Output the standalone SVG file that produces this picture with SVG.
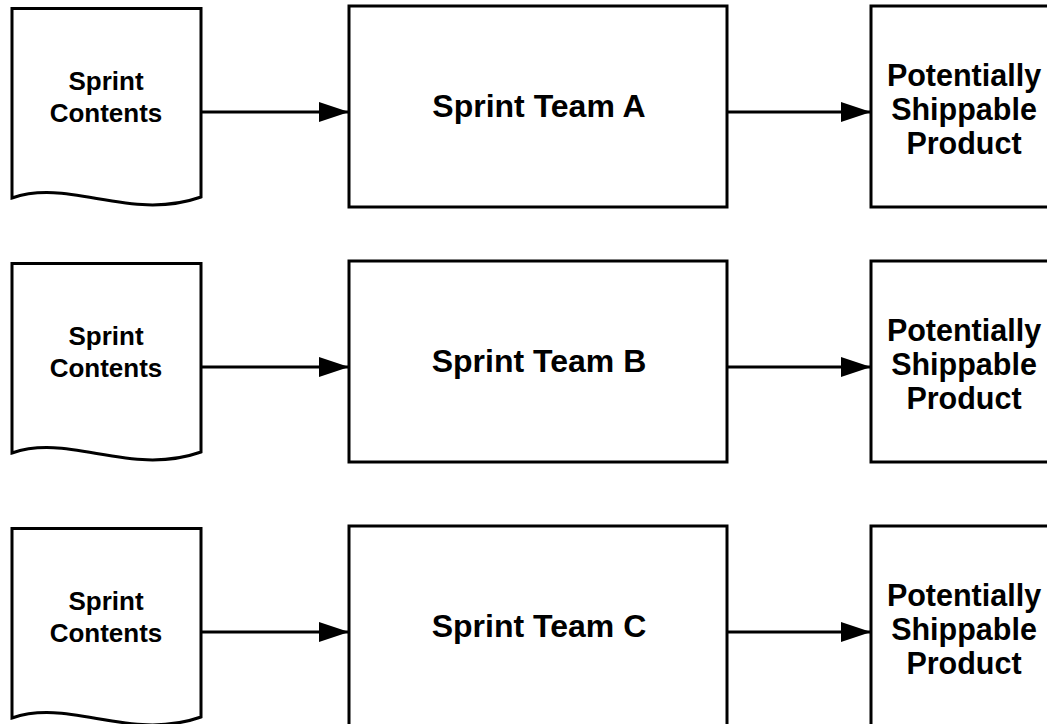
<svg xmlns="http://www.w3.org/2000/svg" width="1047" height="724" viewBox="0 0 1047 724">
  <style>
    .shape { fill: #ffffff; stroke: #000000; stroke-width: 3; stroke-linejoin: miter; }
    .edge { fill: none; stroke: #000000; stroke-width: 3; }
    text { font-family: "Liberation Sans", Arial, sans-serif; font-weight: bold; fill: #000000; text-anchor: middle; }
    .doc-label { font-size: 26px; }
    .team-label { font-size: 32px; }
    .product-label { font-size: 30.5px; }
  </style>
  <defs>
    <marker id="arrow" viewBox="0 0 30 20" refX="30" refY="10" markerWidth="30" markerHeight="20" markerUnits="userSpaceOnUse" orient="auto">
      <path d="M0,0 L30,10 L0,20 Z" fill="#000000"/>
    </marker>
    <path id="doc-shape" d="M12,8.5 H201 V197 C130,222 70,178 12,198 Z"/>
  </defs>

  <!-- Row A -->
  <g id="contents-a">
    <use href="#doc-shape" class="shape"/>
    <text class="doc-label" x="106" y="90">Sprint</text>
    <text class="doc-label" x="106" y="122">Contents</text>
  </g>
  <g id="team-a">
    <rect class="shape" x="349" y="6" width="378" height="201"/>
    <text class="team-label" x="539" y="117">Sprint Team A</text>
  </g>
  <g id="product-a">
    <rect class="shape" x="871" y="6" width="200" height="201"/>
    <text class="product-label" x="964" y="86">Potentially</text>
    <text class="product-label" x="964" y="120">Shippable</text>
    <text class="product-label" x="964" y="154">Product</text>
  </g>

  <!-- Row B -->
  <g id="contents-b" transform="translate(0,255)">
    <use href="#doc-shape" class="shape"/>
    <text class="doc-label" x="106" y="90">Sprint</text>
    <text class="doc-label" x="106" y="122">Contents</text>
  </g>
  <g id="team-b" transform="translate(0,255)">
    <rect class="shape" x="349" y="6" width="378" height="201"/>
    <text class="team-label" x="539" y="117">Sprint Team B</text>
  </g>
  <g id="product-b" transform="translate(0,255)">
    <rect class="shape" x="871" y="6" width="200" height="201"/>
    <text class="product-label" x="964" y="86">Potentially</text>
    <text class="product-label" x="964" y="120">Shippable</text>
    <text class="product-label" x="964" y="154">Product</text>
  </g>

  <!-- Row C -->
  <g id="contents-c" transform="translate(0,520)">
    <use href="#doc-shape" class="shape"/>
    <text class="doc-label" x="106" y="90">Sprint</text>
    <text class="doc-label" x="106" y="122">Contents</text>
  </g>
  <g id="team-c" transform="translate(0,520)">
    <rect class="shape" x="349" y="6" width="378" height="201"/>
    <text class="team-label" x="539" y="117">Sprint Team C</text>
  </g>
  <g id="product-c" transform="translate(0,520)">
    <rect class="shape" x="871" y="6" width="200" height="201"/>
    <text class="product-label" x="964" y="86">Potentially</text>
    <text class="product-label" x="964" y="120">Shippable</text>
    <text class="product-label" x="964" y="154">Product</text>
  </g>

  <!-- Connectors -->
  <g id="connectors">
    <line class="edge" x1="202" y1="112" x2="349" y2="112" marker-end="url(#arrow)"/>
    <line class="edge" x1="728" y1="112" x2="871" y2="112" marker-end="url(#arrow)"/>
    <line class="edge" x1="202" y1="367" x2="349" y2="367" marker-end="url(#arrow)"/>
    <line class="edge" x1="728" y1="367" x2="871" y2="367" marker-end="url(#arrow)"/>
    <line class="edge" x1="202" y1="632" x2="349" y2="632" marker-end="url(#arrow)"/>
    <line class="edge" x1="728" y1="632" x2="871" y2="632" marker-end="url(#arrow)"/>
  </g>
</svg>
